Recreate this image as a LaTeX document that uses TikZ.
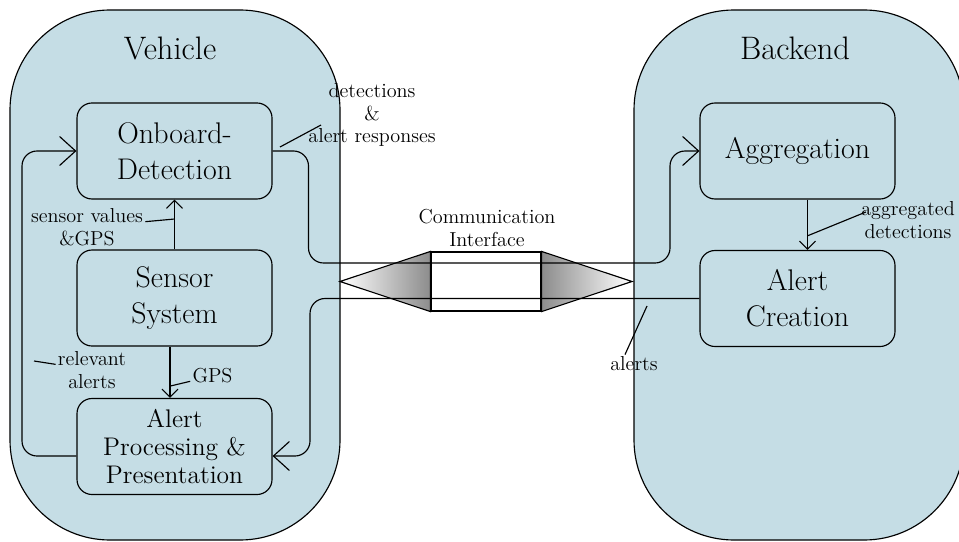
\documentclass[tikz,border=0pt]{standalone}
\usetikzlibrary{arrows.meta}
\definecolor{zonefill}{RGB}{197,221,229}
\tikzset{
  zone/.style={draw, fill=zonefill, rounded corners=2cm, minimum width=6.6cm, minimum height=10.6cm},
  unit/.style={draw, rounded corners=0.3cm, minimum width=3.9cm, minimum height=1.92cm, align=center, font=\fontsize{17}{20.5}\selectfont},
  zonetitle/.style={font=\fontsize{18.5}{22}\selectfont},
  lbl/.style={align=center, font=\fontsize{11.5}{13}\selectfont, inner sep=1pt},
  flow/.style={-{Straight Barb[length=0.32cm,width=0.58cm]}, rounded corners=0.3cm},
  feed/.style={-{Straight Barb[length=0.16cm,width=0.32cm]}},
}
\begin{document}
\begin{tikzpicture}[line width=0.65pt]
    \useasboundingbox (0,0) rectangle (19.18,10.82);
    \node[zone] (vehicle) at (3.50,5.32)  {};
    \node[zone] (backend) at (15.98,5.32) {};
    \node[zonetitle] (vehtitle)  at (3.40,9.86)  {Vehicle};
    \node[zonetitle] (backtitle) at (15.90,9.86) {Backend};

    \node[unit] (onboard)       at (3.49,7.80)  {Onboard-\\Detection};
    \node[unit] (sensor)        at (3.49,4.86)  {Sensor\\System};
    \node[unit, font=\fontsize{14.5}{16}\selectfont] (alertproc) at (3.49,1.89) {Alert\\Processing \&\\Presentation};
    \node[unit] (aggregation)   at (15.95,7.80) {Aggregation};
    \node[unit] (alertcreation) at (15.95,4.85) {Alert\\Creation};

    \node[draw, fill=white, minimum width=2.2cm, minimum height=1.18cm] (comm) at (9.72,5.19) {};
    \shade[draw, left color=white, right color=black!45] (6.80,5.19) -- (comm.north west) -- (comm.south west) -- cycle;
    \shade[draw, left color=black!45, right color=white] (comm.north east) -- (12.64,5.19) -- (comm.south east) -- cycle;
    \node[lbl] (commlbl) at (9.74,6.26) {Communication\\Interface};

    \draw[flow] (onboard.east) -- (6.17,7.80) -- (6.17,5.56) -- (13.40,5.56) -- (13.40,7.80) -- (aggregation.west);
    \draw[flow] (alertcreation.west) -- (6.20,4.85) -- (6.20,1.70) -- ([yshift=-0.19cm]alertproc.east);
    \draw[flow] ([yshift=-0.19cm]alertproc.west) -- (0.44,1.70) -- (0.44,7.80) -- (onboard.west);
    \draw[feed] (sensor) -- coordinate[pos=0.61] (pinsensor) (onboard);
    \draw[feed] ([xshift=-0.09cm]sensor.south) -- coordinate[pos=0.77] (pingps) ([xshift=-0.09cm]alertproc.north);
    \draw[feed] ([xshift=0.2cm]aggregation.south) -- coordinate[pos=0.72] (pinagg) ([xshift=0.2cm]alertcreation.north);

    \coordinate (pindet)    at (5.60,7.88);
    \coordinate (pinrel)    at (0.68,3.60);
    \coordinate (pinalerts) at (12.94,4.70);
    \node[lbl] (lbldet)    at (7.44,8.52)  {detections\\\&\\alert responses};
    \node[lbl] (lblsensor) at (1.74,6.28)  {sensor values\\\&GPS};
    \node[lbl] (lblgps)    at (4.25,3.30)  {GPS};
    \node[lbl] (lblrel)    at (1.84,3.42)  {relevant\\alerts};
    \node[lbl] (lblagg)    at (18.16,6.42) {aggregated\\detections};
    \node[lbl] (lblalerts) at (12.68,3.54) {alerts};
    \draw (pindet) -- ([xshift=0.3cm,yshift=-0.2cm]lbldet.west);
    \draw (pinsensor) -- (lblsensor);
    \draw (pingps) -- (lblgps);
    \draw (pinrel) -- (lblrel);
    \draw (pinagg) -- ([xshift=0.14cm,yshift=0.16cm]lblagg.west);
    \draw (pinalerts) -- ([xshift=-0.18cm]lblalerts.north);
\end{tikzpicture}
\end{document}
